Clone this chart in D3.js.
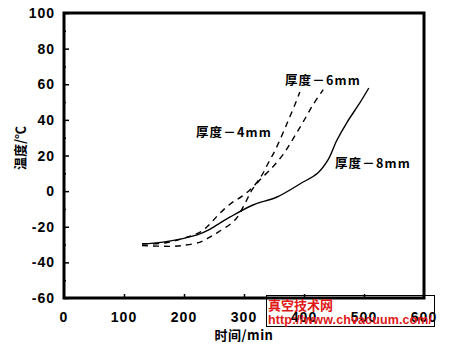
<!DOCTYPE html>
<html>
<head>
<meta charset="utf-8">
<script src="https://cdn.jsdelivr.net/npm/d3@7"></script>
<style>
  html, body { margin: 0; padding: 0; background: #fff; }
  svg { display: block; }
  .tick-label { font-family: "Liberation Sans", Arial, sans-serif; font-weight: bold; font-size: 14px; letter-spacing: 1px; fill: #000; }
  .cjk { font-family: "Noto Sans CJK SC", sans-serif; font-weight: bold; fill: #000; }
</style>
</head>
<body>
<div id="chart"></div>
<script>
// Heating curves of panels of different thickness: time (min) vs temperature (°C)
const xTicks = [0, 100, 200, 300, 400, 500, 600];
const yTicks = [-60, -40, -20, 0, 20, 40, 60, 80, 100];
const yMinorTicks = [-50, -30, -10, 10, 30, 50, 70, 90];

const time4mm = [130, 168, 205, 227, 243, 257, 277, 297, 315, 329, 340, 352, 372, 388, 393];
const temp4mm = [-29.5, -29.1, -25.8, -23, -18.5, -13.4, -7.2, -2.8, 2.3, 8.5, 15.5, 23, 38.2, 51.2, 55.6];

const time6mm = [130, 177, 198, 227, 243, 257, 285, 302, 313, 327, 345, 365, 382, 398, 415, 432];
const temp6mm = [-30.5, -31, -30.5, -28.6, -25.8, -23, -16.2, -6.7, 0.5, 6.5, 12.5, 20.5, 29.5, 38.5, 48.5, 57];

const time8mm = [130, 165, 222, 243, 255, 277, 315, 355, 393, 423, 440, 455, 472, 493, 508];
const temp8mm = [-29.7, -28.6, -24.6, -21.5, -19, -14.5, -7.8, -3.3, 4, 10.2, 17.5, 28.7, 38.8, 49.5, 57.9];

const seriesLabels = ["厚度－4mm", "厚度－6mm", "厚度－8mm"];
const xTitle = "时间/min";
const yTitle = "温度/℃";

const W = 455, H = 347;
const margin = { left: 64, right: 31, top: 13, bottom: 49 };

const svg = d3.select("#chart").append("svg").attr("width", W).attr("height", H);

const x = d3.scaleLinear().domain([0, 600]).range([margin.left, W - margin.right]);
const y = d3.scaleLinear().domain([-60, 100]).range([H - margin.bottom, margin.top]);

// Frame
svg.append("rect")
  .attr("x", x(0)).attr("y", y(100))
  .attr("width", x(600) - x(0)).attr("height", y(-60) - y(100))
  .attr("fill", "none").attr("stroke", "#000").attr("stroke-width", 3);

// Y axis: major ticks inward with labels, minor ticks inward
const yAxis = d3.axisRight(y).tickValues(yTicks).tickSize(5).tickFormat("");
svg.append("g").attr("transform", `translate(${x(0)},0)`).call(yAxis)
  .call(g => g.select(".domain").remove())
  .call(g => g.selectAll("line").attr("stroke-width", 1.5));
const yMinor = d3.axisRight(y).tickValues(yMinorTicks).tickSize(2).tickFormat("");
svg.append("g").attr("transform", `translate(${x(0)},0)`).call(yMinor)
  .call(g => g.select(".domain").remove())
  .call(g => g.selectAll("line").attr("stroke-width", 1.5));
svg.append("g").selectAll("text").data(yTicks).join("text")
  .attr("class", "tick-label")
  .attr("x", x(0) - 9).attr("y", d => y(d)).attr("dy", "0.36em")
  .attr("text-anchor", "end").text(d => d);

// X axis: ticks pointing up
const xAxis = d3.axisTop(x).tickValues(xTicks.slice(1, -1)).tickSize(4).tickFormat("");
svg.append("g").attr("transform", `translate(0,${y(-60)})`).call(xAxis)
  .call(g => g.select(".domain").remove())
  .call(g => g.selectAll("line").attr("stroke-width", 1.5));
svg.append("g").selectAll("text").data(xTicks).join("text")
  .attr("class", "tick-label")
  .attr("x", d => x(d)).attr("y", y(-60) + 19).attr("dy", "0.36em")
  .attr("text-anchor", "middle").text(d => d);

// Axis titles
svg.append("text").attr("class", "cjk")
  .attr("x", 244).attr("y", 335).attr("dy", "0.36em")
  .attr("text-anchor", "middle").attr("font-size", 13).attr("letter-spacing", 0.5).text(xTitle);
svg.append("text").attr("class", "cjk")
  .attr("transform", "translate(20,148) rotate(-90)").attr("dy", "0.36em")
  .attr("text-anchor", "middle").attr("font-size", 13).text(yTitle);

// Curves
const line = d3.line().x(d => x(d[0])).y(d => y(d[1])).curve(d3.curveCatmullRom.alpha(0.5));
const series = [
  { t: time4mm, v: temp4mm, dash: "6,5" },
  { t: time6mm, v: temp6mm, dash: "6,5" },
  { t: time8mm, v: temp8mm, dash: null }
];
series.forEach(s => {
  svg.append("path")
    .datum(s.t.map((t, i) => [t, s.v[i]]))
    .attr("d", line)
    .attr("fill", "none").attr("stroke", "#000").attr("stroke-width", 1.4)
    .attr("stroke-dasharray", s.dash);
});

// Curve labels
const labelPos = [[234, 132], [323, 80], [373, 163]];
seriesLabels.forEach((t, i) => {
  svg.append("text").attr("class", "cjk")
    .attr("x", labelPos[i][0]).attr("y", labelPos[i][1]).attr("dy", "0.36em")
    .attr("text-anchor", "middle").attr("font-size", 12.5).attr("letter-spacing", 1.2).text(t);
});

// Site stamp
svg.append("rect").attr("x", 266.5).attr("y", 295.5).attr("width", 168).attr("height", 31)
  .attr("fill", "none").attr("stroke", "#000").attr("stroke-width", 1);
svg.append("text").attr("x", 268).attr("y", 305).attr("dy", "0.36em")
  .attr("font-family", "Noto Sans CJK SC, sans-serif").attr("font-weight", "bold")
  .attr("font-size", 13).attr("fill", "#e01818").text("真空技术网");
svg.append("text").attr("x", 268).attr("y", 319).attr("dy", "0.36em")
  .attr("font-family", "Liberation Sans, Arial, sans-serif").attr("font-weight", "bold")
  .attr("font-size", 12.5).attr("fill", "#e01818").attr("textLength", 164).text("http://www.chvacuum.com/");
</script>
</body>
</html>
